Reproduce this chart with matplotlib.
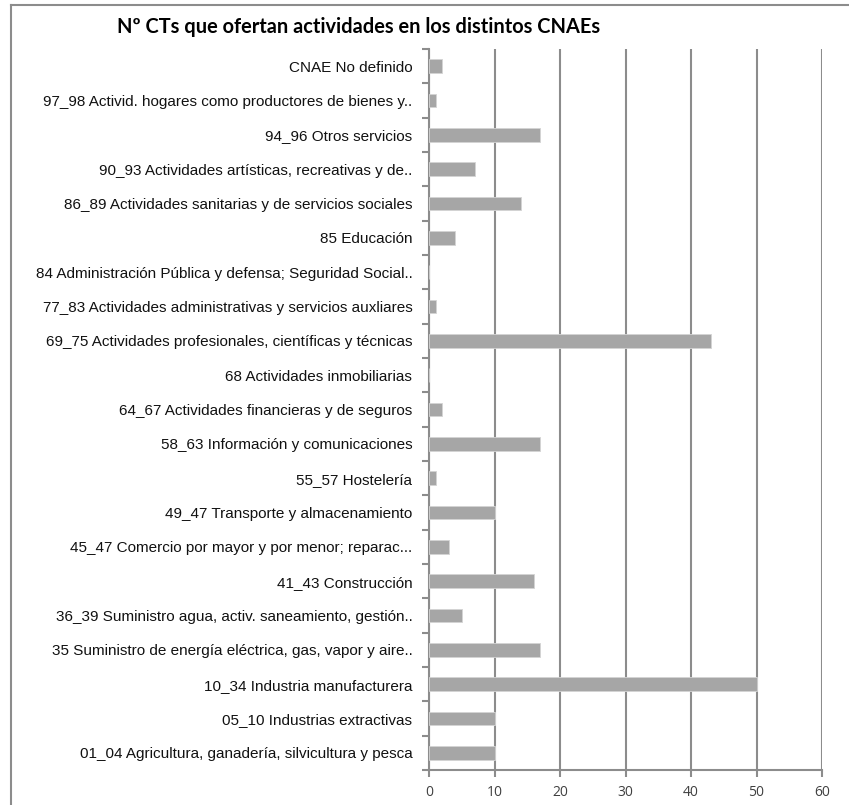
import matplotlib.pyplot as plt
from matplotlib.lines import Line2D
import numpy as np

# CNAE groups, bottom to top as they appear on the axis
categorias = [
    "01_04 Agricultura, ganadería, silvicultura y pesca",
    "05_10 Industrias extractivas",
    "10_34 Industria manufacturera",
    "35 Suministro de energía eléctrica, gas, vapor y aire..",
    "36_39 Suministro agua, activ. saneamiento, gestión..",
    "41_43 Construcción",
    "45_47 Comercio por mayor y por menor; reparac...",
    "49_47 Transporte y almacenamiento",
    "55_57 Hostelería",
    "58_63 Información y comunicaciones",
    "64_67 Actividades financieras y de seguros",
    "68 Actividades inmobiliarias",
    "69_75 Actividades profesionales, científicas y técnicas",
    "77_83 Actividades administrativas y servicios auxliares",
    "84 Administración Pública y defensa; Seguridad Social..",
    "85 Educación",
    "86_89 Actividades sanitarias y de servicios sociales",
    "90_93 Actividades artísticas, recreativas y de..",
    "94_96 Otros servicios",
    "97_98 Activid. hogares como productores de bienes y..",
    "CNAE No definido",
]
num_cts = [10, 10, 50, 17, 5, 16, 3, 10, 1, 17, 2, 0, 43, 1, 0, 4, 14, 7, 17, 1, 2]

titulo = "Nº CTs que ofertan actividades en los distintos CNAEs"
x_ticks = [0, 10, 20, 30, 40, 50, 60]

gris_eje = "#8c8c8c"

fig = plt.figure(figsize=(8.49, 8.05), dpi=100)
ax = fig.add_axes([0.5053, 0.0435, 0.4629, 0.8955])

y = np.arange(len(categorias))
ax.barh(y, num_cts, height=0.4, color="#a6a6a6", edgecolor="#d4d4d4",
        linewidth=0.6, zorder=3)

ax.set_xlim(0, 60)
ax.set_ylim(-0.5, len(categorias) - 0.5)
ax.set_xticks(x_ticks)
ax.set_xticklabels([str(v) for v in x_ticks], fontsize=10, color="#404040",
                   family=["Open Sans", "DejaVu Sans"])
ax.grid(axis="x", color=gris_eje, linewidth=1.5, zorder=1)

# labels at bar centres, tick marks on the category boundaries
ax.set_yticks(y)
ax.set_yticklabels(categorias, fontsize=11, color="#111111",
                   family=["Liberation Sans Narrow", "Liberation Sans", "DejaVu Sans"])
ax.tick_params(axis="y", which="major", length=0, pad=12)
ax.set_yticks(np.arange(-0.5, len(categorias), 1), minor=True)
ax.tick_params(axis="y", which="minor", length=5, width=1.5, color=gris_eje)
ax.tick_params(axis="x", length=5, width=1.5, color=gris_eje, pad=6)

for lado in ["top", "right"]:
    ax.spines[lado].set_visible(False)
for lado in ["left", "bottom"]:
    ax.spines[lado].set_color(gris_eje)
    ax.spines[lado].set_linewidth(1.5)

fig.text(0.422, 0.966, titulo, ha="center", va="center", fontsize=14.4,
         fontweight="bold", family=["Lato", "DejaVu Sans"])

# chart frame (left and top edges)
fig.add_artist(Line2D([0.0135, 0.0135], [0, 0.994], transform=fig.transFigure,
                      color=gris_eje, linewidth=1.5))
fig.add_artist(Line2D([0.0135, 1.0], [0.994, 0.994], transform=fig.transFigure,
                      color=gris_eje, linewidth=1.5))

fig.savefig("out.png", dpi=100)
